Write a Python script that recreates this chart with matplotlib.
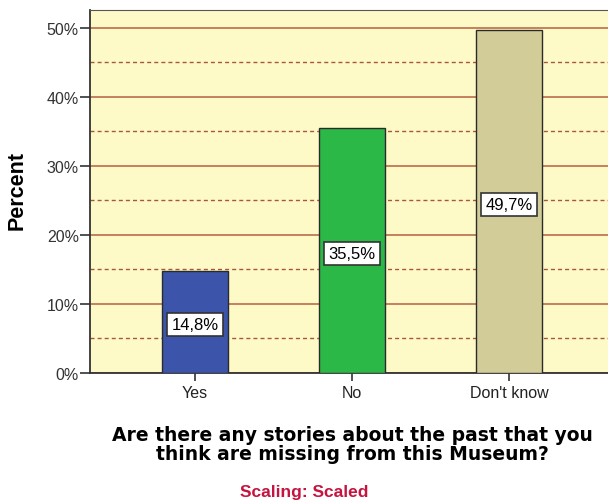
import matplotlib.pyplot as plt
from matplotlib.ticker import MultipleLocator, FuncFormatter

# Data
categories = ['Yes', 'No', "Don't know"]
percents = [14.8, 35.5, 49.7]
labels = ['14,8%', '35,5%', '49,7%']
colors = ['#3c55aa', '#2cb847', '#d2cc98']

plt.rcParams['font.family'] = ['Liberation Sans', 'DejaVu Sans']

fig = plt.figure(figsize=(6.08, 5.02), dpi=100)
ax = fig.add_axes([90 / 608, 1 - 374 / 502, 525 / 608, 363 / 502])
ax.set_facecolor('#fdfac8')

x = list(range(len(categories)))
ax.set_xlim(-0.67, 2.675)
ax.set_ylim(0, 52.6)

# grid lines: solid major, dashed minor
ax.yaxis.set_major_locator(MultipleLocator(10))
ax.yaxis.set_minor_locator(MultipleLocator(5))
ax.grid(axis='y', which='major', color='#b5613f', linewidth=1.1, zorder=1)
ax.grid(axis='y', which='minor', color='#a8583a', linewidth=1.0, linestyle=(0, (2.9, 2.2)), zorder=1)
ax.set_axisbelow(True)

ax.bar(x, percents, width=0.42, color=colors, edgecolor='#2a2a2a', linewidth=1.0, zorder=3)
for xi, p, lab in zip(x, percents, labels):
    ax.text(xi, p / 2 - 0.4, lab, ha='center', va='center', fontsize=12, zorder=4,
            bbox=dict(boxstyle='square,pad=0.25', fc='white', ec='#333333', lw=1.2))

ax.set_xticks(x)
ax.set_xticklabels(categories, fontsize=11.5)
ax.yaxis.set_major_formatter(FuncFormatter(lambda v, pos: f'{v:.0f}%'))
ax.tick_params(axis='y', which='major', length=7, width=1.2, labelsize=11.5, color='#333333',
               labelcolor='#333333', pad=1)
ax.tick_params(axis='y', which='minor', length=0)
ax.tick_params(axis='x', length=6, width=1.2, color='#333333', labelcolor='#222222', pad=3)

for s in ['left', 'bottom']:
    ax.spines[s].set_color('#333333')
    ax.spines[s].set_linewidth(1.3)
ax.spines['top'].set_color('#555555')
ax.spines['right'].set_visible(False)

fig.text(17 / 608, 1 - 190 / 502, 'Percent', rotation=90, ha='center', va='center',
         fontsize=15.5, fontweight='bold')

fig.text(352 / 608, 1 - 445 / 502,
         'Are there any stories about the past that you\nthink are missing from this Museum?',
         ha='center', va='center', fontsize=13.5, fontweight='bold', linespacing=0.95,
         family=['DejaVu Sans'])
fig.text(304 / 608, 1 - 493 / 502, 'Scaling: Scaled', ha='center', va='center',
         fontsize=12.5, fontweight='bold', color='#c4143f')

fig.savefig('out.png', dpi=100)
